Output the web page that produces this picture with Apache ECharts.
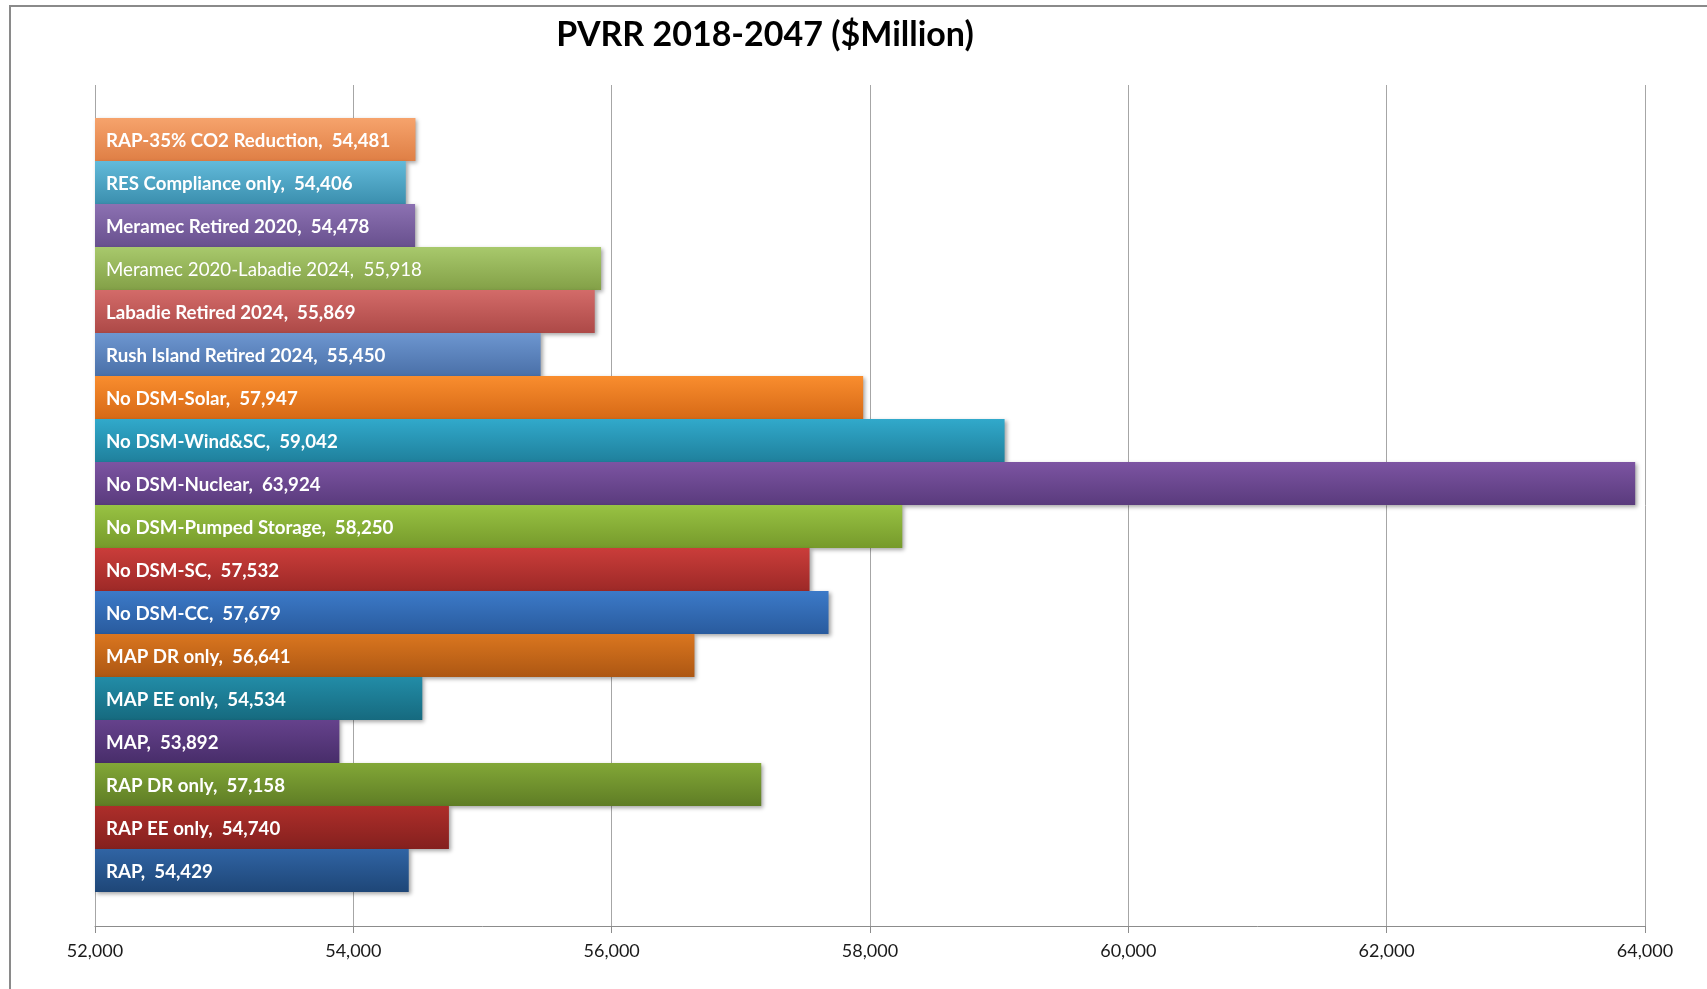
<!DOCTYPE html>
<html>
<head>
<meta charset="utf-8">
<title>PVRR 2018-2047</title>
<script src="https://cdn.jsdelivr.net/npm/echarts@6/dist/echarts.min.js"></script>
<style>
  html, body { margin: 0; padding: 0; background: #fff; }
  #chart { width: 1707px; height: 989px; }
</style>
</head>
<body>
<div id="chart"></div>
<script>
// scenarios, top to bottom
const scenarios = [
  'RAP-35% CO2 Reduction', 'RES Compliance only', 'Meramec Retired 2020',
  'Meramec 2020-Labadie 2024', 'Labadie Retired 2024', 'Rush Island Retired 2024',
  'No DSM-Solar', 'No DSM-Wind&SC', 'No DSM-Nuclear', 'No DSM-Pumped Storage',
  'No DSM-SC', 'No DSM-CC', 'MAP DR only', 'MAP EE only', 'MAP',
  'RAP DR only', 'RAP EE only', 'RAP'
]
// PVRR in $Million
const pvrr = [
  54481, 54406, 54478, 55918, 55869, 55450,
  57947, 59042, 63924, 58250, 57532, 57679,
  56641, 54534, 53892, 57158, 54740, 54429
]
const axisTicks = [52000, 54000, 56000, 58000, 60000, 62000, 64000]

// [top, bottom] gradient per bar
const palette = [
  ['#f6a36c', '#df7f45'], ['#62bada', '#3b8fae'], ['#8c71b2', '#68508e'],
  ['#a8c96c', '#83a047'], ['#d36b69', '#ad4947'], ['#6d96d0', '#4a70a8'],
  ['#f98d2e', '#d66916'], ['#31a9cb', '#1f809c'], ['#7c54a2', '#5a3b7d'],
  ['#98c243', '#769a2b'], ['#ca3d3a', '#9d2927'], ['#3c7ac8', '#295b9e'],
  ['#da761f', '#ad5713'], ['#228ca7', '#166a7f'], ['#65428c', '#482d6a'],
  ['#82a737', '#5f7d25'], ['#ad2e2a', '#84201e'], ['#3064a4', '#1e4677']
]
const lightLabels = ['Meramec 2020-Labadie 2024']

const fmt = v => v.toLocaleString('en-US')
const font = 'Lato, "Open Sans", sans-serif'

const chart = echarts.init(document.getElementById('chart'))

const barData = pvrr.map((v, i) => ({
  value: v,
  itemStyle: {
    color: new echarts.graphic.LinearGradient(0, 0, 0, 1, [
      { offset: 0, color: palette[i][0] },
      { offset: 1, color: palette[i][1] }
    ])
  },
  label: { fontWeight: lightLabels.includes(scenarios[i]) ? 'normal' : 'bold' }
}))

chart.setOption({
  animation: false,
  title: {
    text: 'PVRR 2018-2047 ($Million)',
    left: 760, top: 13, textAlign: 'center',
    textStyle: { fontFamily: font, fontSize: 34, fontWeight: 'bold', color: '#000' }
  },
  graphic: [{
    type: 'rect', silent: true,
    shape: { x: 10, y: 6, width: 2000, height: 2000 },
    style: { fill: 'none', stroke: '#8a8a8a', lineWidth: 2 }
  }],
  grid: [
    // axis + gridlines
    { left: 95, right: 62, top: 85, bottom: 63 },
    // bars
    { left: 95, right: 62, top: 118, bottom: 97 }
  ],
  xAxis: [{
    gridIndex: 0, type: 'value',
    min: axisTicks[0], max: axisTicks[axisTicks.length - 1], interval: 2000,
    axisLine: { show: true, lineStyle: { color: '#8c8c8c', width: 1 } },
    axisTick: { show: true, length: 7, lineStyle: { color: '#8c8c8c' } },
    splitLine: { show: true, lineStyle: { color: '#a6a6a6', width: 1 } },
    axisLabel: { fontFamily: font, fontSize: 18, color: '#1a1a1a', margin: 16, formatter: fmt }
  }, {
    gridIndex: 1, type: 'value',
    min: axisTicks[0], max: axisTicks[axisTicks.length - 1], show: false
  }],
  yAxis: [{
    gridIndex: 0, type: 'value', min: 0, max: 1, show: false
  }, {
    gridIndex: 1, type: 'category', data: scenarios, inverse: true, show: false
  }],
  series: [{
    type: 'bar',
    xAxisIndex: 1, yAxisIndex: 1,
    barCategoryGap: '0%',
    data: barData,
    itemStyle: {
      shadowColor: 'rgba(0,0,0,0.35)', shadowBlur: 4, shadowOffsetX: 2, shadowOffsetY: 2
    },
    label: {
      show: true, position: 'insideLeft', distance: 11, offset: [0, 1],
      color: '#fff', fontFamily: font, fontSize: 18.7,
      formatter: p => p.name + ',  ' + fmt(p.value)
    }
  }]
})
</script>
</body>
</html>
